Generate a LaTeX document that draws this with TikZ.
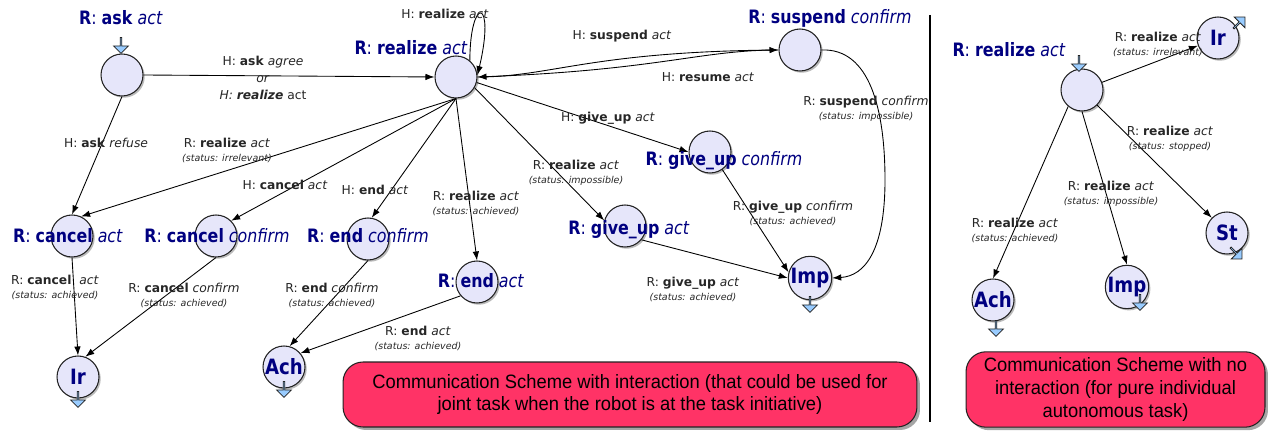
\documentclass[tikz,border=0pt]{standalone}
\usepackage{fontspec}
\setmainfont{DejaVu Sans}
\newfontfamily\stfont[FakeStretch=0.86]{DejaVu Sans}
\newfontfamily\boxfont[FakeStretch=0.95]{Liberation Sans}
\usepackage{tikz}
\usetikzlibrary{arrows.meta,shapes.arrows,shadows}
\definecolor{csnavy}{HTML}{000080}
\definecolor{csfill}{HTML}{E6E6FA}
\definecolor{cspink}{HTML}{FF3366}
\definecolor{csblue}{HTML}{99CCFF}
\definecolor{csgray}{HTML}{222222}

\newcommand{\msg}[3]{#1: \textbf{#2} \textit{#3}}
\newcommand{\stat}[1]{{\fontsize{5.4}{6.5}\selectfont\itshape (status: #1)}}
\newcommand{\rname}[2]{\textbf{R}: \textbf{#1} \textit{#2}}

\begin{document}
\begin{tikzpicture}[
    x=0.02cm,
    y=-0.02cm,
    state/.style={circle, draw=csgray, line width=0.6pt, fill=csfill, minimum size=0.84cm, inner sep=0pt,
      drop shadow={shadow xshift=0.35mm, shadow yshift=-0.35mm, opacity=0.45, fill=black!60},
      font=\stfont\fontsize{12}{12}\selectfont\bfseries, text=csnavy},
    stname/.style={font=\stfont\fontsize{10.5}{12}\selectfont, text=csnavy, inner sep=0pt},
    lbl/.style={font=\fontsize{7}{8}\selectfont, align=center, inner sep=0pt, text=black!85},
    flow/.style={-{Latex[length=1.8mm,width=1.3mm]}, line width=0.5pt, draw=black},
    port/.style={single arrow, draw=csgray, line width=0.45pt, fill=csblue, inner sep=0pt,
      minimum height=3.2mm, minimum width=3mm, single arrow head extend=0.65mm},
    note/.style={rounded corners=4mm, draw=csgray, line width=0.6pt, fill=cspink, align=center,
      font=\boxfont\fontsize{11}{13}\selectfont,
      drop shadow={shadow xshift=0.6mm, shadow yshift=-0.6mm, opacity=0.5, fill=black!70}}
  ]
    \useasboundingbox (0,0) rectangle (1271,438);

    % scheme with interaction
    \node[state] (askS) at (122,75) {};
    \node[state] (realS) at (456,77) {};
    \node[state] (suspS) at (800,50) {};
    \node[state] (gucS) at (710,152) {};
    \node[state] (guaS) at (625,226) {};
    \node[state] (impS) at (810,278) {Imp};
    \node[state] (caS) at (72,236) {};
    \node[state] (ccS) at (216,236) {};
    \node[state] (ecS) at (368,239) {};
    \node[state] (eaS) at (477,282) {};
    \node[state] (irS) at (78,377) {Ir};
    \node[state] (achS) at (284,367) {Ach};

    % scheme without interaction
    \node[state] (rlS) at (1082,90) {};
    \node[state] (irbS) at (1218,38) {Ir};
    \node[state] (stS) at (1227,233) {St};
    \node[state] (impbS) at (1127,287) {Imp};
    \node[state] (achbS) at (993,300) {Ach};

    \node[port, rotate=-90] (askIn) at (121,45) {};
    \node[port, rotate=-90] (rlIn) at (1079,63) {};
    \node[port, rotate=-90] (irOut) at (78,399) {};
    \node[port, rotate=-90] (achOut) at (284,389) {};
    \node[port, rotate=-90] (impOut) at (810,304) {};
    \node[port, rotate=45] (irbOut) at (1239,23) {};
    \node[port, rotate=-45] (stOut) at (1236,253) {};
    \node[port, rotate=-90] (impbOut) at (1140,302) {};
    \node[port, rotate=-90] (achbOut) at (996,328) {};

    \draw[flow] (askS.east) -- (realS.west) node[lbl] at (263,78) {\msg{H}{ask}{agree}\\[1.5pt] \textit{or}\\[1.5pt] \textit{H: \textbf{realize}} act};
    \draw[flow] (askS.south) -- (caS.north) node[lbl] at (106,143) {\msg{H}{ask}{refuse}};
    \draw[flow] (realS.50) .. controls (470,-5) and (496,-3) .. (realS.5) node[lbl] at (445,14) {\msg{H}{realize}{act}};
    \draw[flow] (realS.east) .. controls (550,77) and (590,52) .. (suspS.west) node[lbl] at (622,36) {\msg{H}{suspend}{act}};
    \draw[flow] (suspS.west) .. controls (700,50) and (660,70) .. (realS.east) node[lbl] at (708,77) {\msg{H}{resume}{act}};
    \draw[flow] (realS.south) -- (caS.65) node[lbl] at (227,150) {\msg{R}{realize}{act}\\\stat{irrelevant}};
    \draw[flow] (realS.south) -- (ccS.45) node[lbl] at (285,185) {\msg{H}{cancel}{act}};
    \draw[flow] (realS.south) -- (ecS.80) node[lbl] at (375,190) {\msg{H}{end}{act}};
    \draw[flow] (realS.south) -- (eaS.north) node[lbl] at (476,203) {\msg{R}{realize}{act}\\\stat{achieved}};
    \draw[flow] (realS.-30) -- (guaS.165) node[lbl] at (576,173) {\msg{R}{realize}{act}\\\stat{impossible}};
    \draw[flow] (realS.-15) -- (gucS.west) node[lbl] at (608,118) {\msg{H}{give\_up}{act}};
    \draw[flow] (suspS.east) .. controls (870,48) and (885,110) .. (885,180) .. controls (885,250) and (865,276) .. (impS.east)
      node[lbl] at (866,109) {\msg{R}{suspend}{confirm}\\\stat{impossible}};
    \draw[flow] (gucS.-55) -- (impS.165) node[lbl] at (793,213) {\msg{R}{give\_up}{confirm}\\\stat{achieved}};
    \draw[flow] (guaS.-40) -- (impS.west) node[lbl] at (693,289) {\msg{R}{give\_up}{act}\\\stat{achieved}};
    \draw[flow] (caS.south) -- (irS.north) node[lbl] at (55,287) {R: \textbf{cancel}\ \ \textit{act}\\\stat{achieved}};
    \draw[flow] (ccS.south) -- (irS.70) node[lbl] at (184,295) {\msg{R}{cancel}{confirm}\\\stat{achieved}};
    \draw[flow] (ecS.south) -- (achS.75) node[lbl] at (332,295) {\msg{R}{end}{confirm}\\\stat{achieved}};
    \draw[flow] (eaS.-140) -- (achS.40) node[lbl] at (418,338) {\msg{R}{end}{act}\\\stat{achieved}};

    \draw[flow] (rlS) -- (irbS) node[lbl] at (1158,44) {\msg{R}{realize}{act}\\\stat{irrelevant}};
    \draw[flow] (rlS.-45) -- (stS.135) node[lbl] at (1170,139) {\msg{R}{realize}{act}\\\stat{stopped}};
    \draw[flow] (rlS.south) -- (impbS.north) node[lbl] at (1111,194) {\msg{R}{realize}{act}\\\stat{impossible}};
    \draw[flow] (rlS.-130) -- (achbS.north) node[lbl] at (1015,230) {\msg{R}{realize}{act}\\\stat{achieved}};

    % state names
    \node[stname] (askT) at (121,18) {\rname{ask}{act}};
    \node[stname] (realT) at (411,48) {\rname{realize}{act}};
    \node[stname] (suspT) at (830,18) {\rname{suspend}{confirm}};
    \node[stname] (gucT) at (724,161) {\rname{give\_up}{confirm}};
    \node[stname] (guaT) at (629,230) {\rname{give\_up}{act}};
    \node[stname] (caT) at (68,236) {\rname{cancel}{act}};
    \node[stname] (ccT) at (217,236) {\rname{cancel}{confirm}};
    \node[stname] (ecT) at (368,236) {\rname{end}{confirm}};
    \node[stname] (eaT) at (481,281) {\rname{end}{act}};
    \node[stname] (rlT) at (1009,50) {\rname{realize}{act}};

    \draw[line width=1.2pt] (930,15) -- (930,422);

    \node[note, minimum width=11.48cm, minimum height=1.3cm] (noteL) at (630,394.5)
      {Communication Scheme with interaction (that could be used for\\joint task when the robot is at the task initiative)};
    \node[note, minimum width=5.98cm, minimum height=1.5cm] (noteR) at (1115.5,389.5)
      {Communication Scheme with no\\interaction (for pure individual\\autonomous task)};
\end{tikzpicture}
\end{document}
